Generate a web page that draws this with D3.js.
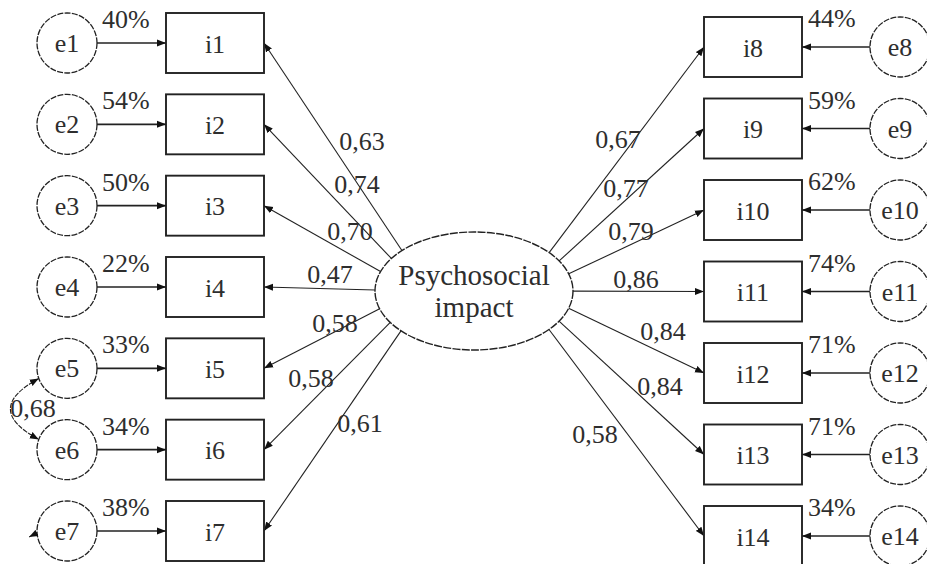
<!DOCTYPE html>
<html>
<head>
<meta charset="utf-8">
<script src="https://cdn.jsdelivr.net/npm/d3@7"></script>
<style>
  body { margin: 0; background: #fff; }
  svg text { font-family: "Liberation Serif", serif; fill: #2e2e2e; }
</style>
</head>
<body>
<div id="chart"></div>
<script>
// indicators, error terms, standardized loadings and R2 (%)
const leftItems = ["i1", "i2", "i3", "i4", "i5", "i6", "i7"];
const leftErrors = ["e1", "e2", "e3", "e4", "e5", "e6", "e7"];
const leftLoadings = [0.63, 0.74, 0.70, 0.47, 0.58, 0.58, 0.61];
const leftR2 = [40, 54, 50, 22, 33, 34, 38];

const rightItems = ["i8", "i9", "i10", "i11", "i12", "i13", "i14"];
const rightErrors = ["e8", "e9", "e10", "e11", "e12", "e13", "e14"];
const rightLoadings = [0.67, 0.77, 0.79, 0.86, 0.84, 0.84, 0.58];
const rightR2 = [44, 59, 62, 74, 71, 71, 34];

const latentLines = ["Psychosocial", "impact"];
const covPair = ["e5", "e6"];
const covValue = 0.68;

// layout
const width = 927, height = 564;
const boxW = 98, boxH = 60, errR = 30;
const leftBoxX = 166, rightBoxX = 704;
const leftErrX = 67, rightErrX = 900;
const ell = {cx: 474, cy: 291, rx: 99, ry: 59};
// where each loading label sits (centre x, baseline y)
const leftLabelPos = [[362, 150], [357, 193], [350, 240], [330, 283], [335, 332], [311, 387], [360, 432]];
const rightLabelPos = [[618, 148], [626, 197], [631, 240], [636, 288], [663, 340], [660, 395], [595, 443]];

const fmt = v => d3.format(".2f")(v).replace(".", ",");

let yLeft = d3.scalePoint().domain(leftItems).range([43, 531]);
let yRight = d3.scalePoint().domain(rightItems).range([47, 536]);
let yLeftErr = d3.scalePoint().domain(leftErrors).range([43, 531]);

let svg = d3.select("#chart")
    .append("svg")
    .attr("width", width)
    .attr("height", height)
    .attr("font-family", "Liberation Serif, serif");

let defs = svg.append("defs");
defs.append("marker")
    .attr("id", "arrow")
    .attr("viewBox", "0 -4 9 8")
    .attr("refX", 9)
    .attr("refY", 0)
    .attr("markerWidth", 9)
    .attr("markerHeight", 8)
    .attr("markerUnits", "userSpaceOnUse")
    .attr("orient", "auto-start-reverse")
    .append("path")
    .attr("d", "M0,-3.5L9,0L0,3.5Z")
    .attr("fill", "#111");

// point on the ellipse where a path towards anchor (ax, ay) starts
function ellipsePoint(ax, ay, side) {
    let theta = Math.atan2(ay - ell.cy, ax - ell.cx);
    let param;
    if (side === "left") {
        let rel = theta < 0 ? theta + Math.PI : theta - Math.PI;
        param = Math.PI + 0.87 * rel;
    } else {
        param = 0.87 * theta;
    }
    return [ell.cx + ell.rx * Math.cos(param), ell.cy + ell.ry * Math.sin(param)];
}

function drawSide(items, errors, loadings, r2, yScale, boxX, errX, labelPos, side) {
    let g = svg.append("g").attr("class", side);
    items.forEach(function (item, i) {
        let cy = yScale(item);
        let anchorX = side === "left" ? boxX + boxW : boxX;
        let s = ellipsePoint(anchorX, cy, side);

        // loading path
        g.append("line")
            .attr("x1", s[0]).attr("y1", s[1])
            .attr("x2", anchorX).attr("y2", cy)
            .attr("stroke", "#222")
            .attr("stroke-width", 1.1)
            .attr("marker-end", "url(#arrow)");

        g.append("text")
            .attr("x", labelPos[i][0])
            .attr("y", labelPos[i][1])
            .attr("text-anchor", "middle")
            .style("font-size", "26px")
            .text(fmt(loadings[i]));

        // indicator box
        g.append("rect")
            .attr("x", boxX)
            .attr("y", cy - boxH / 2)
            .attr("width", boxW)
            .attr("height", boxH)
            .attr("fill", "#fff")
            .attr("stroke", "#222")
            .attr("stroke-width", 1.9);

        g.append("text")
            .attr("x", boxX + boxW / 2)
            .attr("y", cy + 9.5)
            .attr("text-anchor", "middle")
            .style("font-size", "26px")
            .text(item);

        // error term
        let ecy = cy;
        let lineFrom = side === "left" ? errX + errR : errX - errR;
        let lineTo = side === "left" ? boxX : boxX + boxW;
        g.append("line")
            .attr("x1", lineFrom).attr("y1", ecy)
            .attr("x2", lineTo).attr("y2", ecy)
            .attr("stroke", "#222")
            .attr("stroke-width", 1.7)
            .attr("marker-end", "url(#arrow)");

        g.append("circle")
            .attr("cx", errX)
            .attr("cy", ecy)
            .attr("r", errR)
            .attr("fill", "#fff")
            .attr("stroke", "#222")
            .attr("stroke-width", 1.3)
            .attr("stroke-dasharray", "6,1.3");

        g.append("text")
            .attr("x", errX)
            .attr("y", ecy + 9)
            .attr("text-anchor", "middle")
            .style("font-size", "26px")
            .text(errors[i]);

        // R2
        g.append("text")
            .attr("x", side === "left" ? errX + errR + 5 : boxX + boxW + 6)
            .attr("y", side === "left" ? ecy - 15 : ecy - 20)
            .attr("text-anchor", "start")
            .style("font-size", "26px")
            .text(r2[i] + "%");
    });
}

drawSide(leftItems, leftErrors, leftLoadings, leftR2, yLeft, leftBoxX, leftErrX, leftLabelPos, "left");
drawSide(rightItems, rightErrors, rightLoadings, rightR2, yRight, rightBoxX, rightErrX, rightLabelPos, "right");

// latent variable
svg.append("ellipse")
    .attr("cx", ell.cx)
    .attr("cy", ell.cy)
    .attr("rx", ell.rx)
    .attr("ry", ell.ry)
    .attr("fill", "#fff")
    .attr("stroke", "#222")
    .attr("stroke-width", 1.4)
    .attr("stroke-dasharray", "8,1.3");

svg.append("text")
    .attr("text-anchor", "middle")
    .style("font-size", "29px")
    .selectAll("tspan")
    .data(latentLines)
    .enter().append("tspan")
    .attr("x", ell.cx)
    .attr("y", function (d, i) { return 285 + i * 32; })
    .text(function (d) { return d; });

// covariance e5 <-> e6
let ya = yLeftErr(covPair[0]), yb = yLeftErr(covPair[1]);
let ang = 160 * Math.PI / 180;
let p0 = [leftErrX + errR * Math.cos(ang), ya + errR * Math.sin(ang)];
let p2 = [leftErrX + errR * Math.cos(ang), yb - errR * Math.sin(ang)];
let covPath = d3.path();
covPath.moveTo(p0[0], p0[1]);
covPath.quadraticCurveTo(-18, (ya + yb) / 2, p2[0], p2[1]);
svg.append("path")
    .attr("d", covPath.toString())
    .attr("fill", "none")
    .attr("stroke", "#222")
    .attr("stroke-width", 1.1)
    .attr("stroke-dasharray", "5,1.2")
    .attr("marker-start", "url(#arrow)")
    .attr("marker-end", "url(#arrow)");

svg.append("text")
    .attr("x", 33)
    .attr("y", 417)
    .attr("text-anchor", "middle")
    .style("font-size", "26px")
    .text(fmt(covValue));

// small arrowhead on the left of e7
let y7 = yLeftErr("e7");
svg.append("line")
    .attr("x1", leftErrX - errR).attr("y1", y7 + 2)
    .attr("x2", leftErrX - errR - 8).attr("y2", y7 + 6)
    .attr("stroke", "#222")
    .attr("stroke-width", 1)
    .attr("marker-end", "url(#arrow)");
</script>
</body>
</html>
